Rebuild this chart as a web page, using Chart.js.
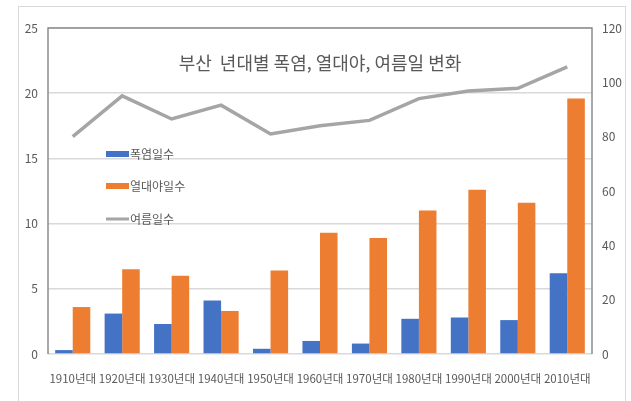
<!DOCTYPE html>
<html lang="ko">
<head>
  <meta charset="UTF-8">
  <title>부산 년대별 폭염, 열대야, 여름일 변화</title>
  <style>
    body { margin: 0; padding: 0; background: #fff; }
    .frame {
      position: absolute;
      left: 18px; top: 6px;
      width: 606px; height: 420px;
      border: 1px solid #d9d9d9;
    }
    .chart-container {
      position: absolute;
      left: 0; top: 0;
      width: 631px; height: 401px;
    }
  </style>
</head>
<body>
  <div class="frame"></div>
  <div class="chart-container">
    <canvas id="combo" width="631" height="401"></canvas>
  </div>

  <script src="https://cdn.jsdelivr.net/npm/chart.js"></script>
  <script>
    const decades = ['1910년대', '1920년대', '1930년대', '1940년대', '1950년대', '1960년대',
                     '1970년대', '1980년대', '1990년대', '2000년대', '2010년대'];
    const heatwaveDays = [0.3, 3.1, 2.3, 4.1, 0.4, 1.0, 0.8, 2.7, 2.8, 2.6, 6.2];
    const tropicalNights = [3.6, 6.5, 6.0, 3.3, 6.4, 9.3, 8.9, 11.0, 12.6, 11.6, 19.6];
    const summerDays = [80, 95, 86.5, 91.6, 81, 84, 86, 94, 96.8, 97.8, 105.7];
    const leftTicks = [0, 5, 10, 15, 20, 25];
    const rightTicks = [0, 20, 40, 60, 80, 100, 120];

    const titleText = '부산  년대별 폭염, 열대야, 여름일 변화';
    const textColor = '#595959';
    const fontFamily = "'Noto Sans CJK KR', 'Noto Sans', sans-serif";

    // 차트 영역 테두리, 제목, 범례를 직접 그림
    const decorPlugin = {
      id: 'decor',
      beforeDatasetsDraw(chart) {
        const { ctx, chartArea: a } = chart;
        ctx.save();
        ctx.strokeStyle = '#8c8c8c';
        ctx.lineWidth = 1.5;
        ctx.beginPath();
        ctx.moveTo(a.left, a.bottom);
        ctx.lineTo(a.left, a.top);
        ctx.lineTo(a.right, a.top);
        ctx.lineTo(a.right, a.bottom);
        ctx.stroke();
        ctx.restore();
      },
      afterDatasetsDraw(chart) {
        const { ctx, chartArea: a } = chart;
        ctx.save();
        ctx.fillStyle = textColor;
        ctx.font = '18px ' + fontFamily;
        ctx.textAlign = 'center';
        ctx.textBaseline = 'middle';
        ctx.fillText(titleText, (a.left + a.right) / 2, 63);

        // 범례
        ctx.font = '12px ' + fontFamily;
        ctx.textAlign = 'left';
        const ys = [154, 186, 219];
        chart.data.datasets.forEach((ds, i) => {
          const y = ys[i];
          if (ds.type === 'line') {
            ctx.fillStyle = ds.borderColor;
            ctx.fillRect(106, y - 1.5, 23, 3);
          } else {
            ctx.fillStyle = ds.backgroundColor;
            ctx.fillRect(106, y - 3, 23, 6);
          }
          ctx.fillStyle = textColor;
          ctx.fillText(ds.label, 130, y);
        });
        ctx.restore();
      }
    };

    new Chart(document.getElementById('combo').getContext('2d'), {
      data: {
        labels: decades,
        datasets: [
          {
            type: 'bar',
            label: '폭염일수',
            data: heatwaveDays,
            backgroundColor: '#4472c4',
            yAxisID: 'y',
            order: 2,
            categoryPercentage: 0.71,
            barPercentage: 1.0
          },
          {
            type: 'bar',
            label: '열대야일수',
            data: tropicalNights,
            backgroundColor: '#ed7d31',
            yAxisID: 'y',
            order: 2,
            categoryPercentage: 0.71,
            barPercentage: 1.0
          },
          {
            type: 'line',
            label: '여름일수',
            data: summerDays,
            borderColor: '#a5a5a5',
            borderWidth: 3.5,
            pointRadius: 0,
            tension: 0,
            yAxisID: 'y1',
            order: 1
          }
        ]
      },
      options: {
        responsive: false,
        animation: false,
        layout: { padding: { top: 28, left: 0, right: 0, bottom: 0 } },
        plugins: {
          legend: { display: false },
          title: { display: false },
          tooltip: { enabled: false }
        },
        scales: {
          x: {
            grid: { display: false },
            border: { display: false },
            ticks: {
              color: textColor,
              font: { family: fontFamily, size: 11.5 },
              maxRotation: 0,
              autoSkip: false,
              padding: 10
            },
            afterFit: s => { s.height = 47; }
          },
          y: {
            position: 'left',
            min: 0,
            max: 25,
            afterBuildTicks: s => { s.ticks = leftTicks.map(v => ({ value: v })); },
            grid: { color: '#d9d9d9', lineWidth: 1.5, drawTicks: false },
            border: { display: false },
            ticks: {
              color: textColor,
              font: { family: fontFamily, size: 12 },
              padding: 10
            },
            afterFit: s => { s.width = 48; }
          },
          y1: {
            position: 'right',
            min: 0,
            max: 120,
            afterBuildTicks: s => { s.ticks = rightTicks.map(v => ({ value: v })); },
            grid: { display: false, drawTicks: false },
            border: { display: false },
            ticks: {
              color: textColor,
              font: { family: fontFamily, size: 12 },
              padding: 10
            },
            afterFit: s => { s.width = 39; }
          }
        }
      },
      plugins: [decorPlugin]
    });
  </script>
</body>
</html>
